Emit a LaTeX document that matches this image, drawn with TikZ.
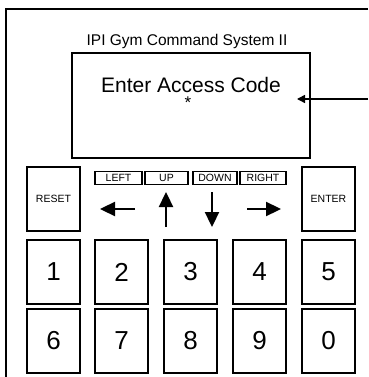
\documentclass[tikz,border=0pt]{standalone}
\usepackage{fontspec}
\setmainfont{Liberation Sans}
\usetikzlibrary{arrows.meta}
\tikzset{
  key/.style={draw, line width=1.8pt, minimum width=53pt, minimum height=64pt,
    inner sep=0pt, font=\fontsize{26}{26}\selectfont},
  cmdkey/.style={key, font=\fontsize{10.5}{10.5}\selectfont},
  tag/.style={draw, line width=1.5pt, minimum height=13pt, inner sep=0pt,
    font=\fontsize{10.5}{10.5}\selectfont},
  dir/.style={line width=2.3pt, -{Triangle[length=15pt,width=14pt]}},
}
\begin{document}
\begin{tikzpicture}[x=1pt,y=-1pt]
\useasboundingbox (0,0) rectangle (368,377);
% frame of the panel, cut off at right and bottom
\draw [line width=2.4pt] (368,9) -- (6,9) -- (6,377);
\node (title) at (187,41) {\fontsize{15.5}{15.5}\selectfont IPI Gym Command System II};
% display
\node [draw, line width=2.4pt, minimum width=238pt, minimum height=105pt] (screen) at (191,105.5) {};
\node (prompt) at (191,85) {\fontsize{21}{21}\selectfont Enter Access Code};
\node (star) at (188,103) {\fontsize{17}{17}\selectfont *};
\coordinate (feed) at (368,99);
\coordinate (aim) at (297,99);
\draw [line width=1.5pt, -{Triangle[length=8pt,width=8pt]}] (feed) -- (aim);
% command keys
\node [cmdkey] (reset) at (53.5,199) {RESET};
\node [cmdkey] (enter) at (328.5,199) {ENTER};
\node [tag, minimum width=47pt] (left) at (118.5,178) {LEFT};
\node [tag, minimum width=43pt] (up) at (166.5,178) {UP};
\node [tag, minimum width=44pt] (down) at (215,178) {DOWN};
\node [tag, minimum width=46pt] (right) at (263,178) {RIGHT};
\draw [dir] (135,209) -- (100,209);
\draw [dir] (166,227) -- (166,192);
\draw [dir] (212,192) -- (212,227);
\draw [dir] (247,209) -- (281,209);
% digit keys
\node [key] (k1) at (53.5,272) {1};
\node [key] (k2) at (121.5,272) {2};
\node [key] (k3) at (190.5,272) {3};
\node [key] (k4) at (259.5,272) {4};
\node [key] (k5) at (328.5,272) {5};
\node [key] (k6) at (53.5,341) {6};
\node [key] (k7) at (121.5,341) {7};
\node [key] (k8) at (190.5,341) {8};
\node [key] (k9) at (259.5,341) {9};
\node [key] (k0) at (328.5,341) {0};
\end{tikzpicture}
\end{document}
